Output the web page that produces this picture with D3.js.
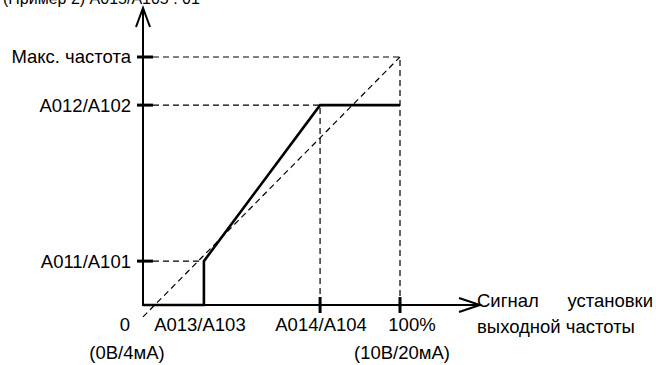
<!DOCTYPE html>
<html lang="ru">
<head>
<meta charset="UTF-8">
<title>Пример 2</title>
<style>
  body { margin: 0; background: #fff; }
  svg text { font-family: "Liberation Sans", Arial, sans-serif; font-size: 18.5px; fill: #000; }
  .axis { stroke: #000; stroke-width: 2; fill: none; }
  .tick { stroke: #000; stroke-width: 3; }
  .guide { stroke: #000; stroke-width: 1.2; stroke-dasharray: 6 4; fill: none; }
  .curve { stroke: #000; stroke-width: 2.6; fill: none; stroke-linejoin: miter; }
</style>
<script src="https://d3js.org/d3.v7.min.js"></script>
</head>
<body>
<script>
// values in % of signal (x) and % of max frequency (y)
const xPoints = { zero: 0, a013: 23.7, a014: 68.9, full: 100 };
const yPoints = { zero: 0, a011: 17.7, a012: 80.6, max: 100 };

const yLabels = [
  { key: "max", text: "Макс. частота" },
  { key: "a012", text: "A012/A102" },
  { key: "a011", text: "A011/A101" }
];
const xLabels = [
  { key: "a013", text: "A013/A103" },
  { key: "a014", text: "A014/A104" },
  { key: "full", text: "100%" }
];
const subLabels = [
  { key: "zero", text: "(0В/4мА)" },
  { key: "full", text: "(10В/20мА)" }
];
// output frequency curve (x %, y %)
const outputCurve = [
  [0, 0], [23.7, 0], [23.7, 17.7], [68.9, 80.6], [100, 80.6]
];
// reference diagonal
const diagonal = [[0, -4.8], [100, 100]];

const width = 656, height = 365;
const x = d3.scaleLinear().domain([0, 100]).range([143, 400]);
const y = d3.scaleLinear().domain([0, 100]).range([305, 57]);

const svg = d3.select("body").append("svg")
  .attr("width", width).attr("height", height);

// title (cut off at top, as in the source page)
svg.append("text").attr("x", 3).attr("y", 4)
  .style("font-size", "16px")
  .text("(Пример 2) A015/A105 : 01");

const line = d3.line().x(d => x(d[0])).y(d => y(d[1]));

// dashed guides
svg.append("path").attr("class", "guide").attr("d", line(diagonal));
svg.append("path").attr("class", "guide")
  .attr("d", line([[0, yPoints.max], [xPoints.full, yPoints.max], [xPoints.full, 0]]));
svg.append("path").attr("class", "guide")
  .attr("d", line([[0, yPoints.a012], [xPoints.a014, yPoints.a012], [xPoints.a014, 0]]));
svg.append("path").attr("class", "guide")
  .attr("d", line([[0, yPoints.a011], [xPoints.a013, yPoints.a011]]));

// axes
const x0 = x(0), y0 = y(0);
svg.append("line").attr("class", "axis")
  .attr("x1", x0).attr("y1", y0 + 1).attr("x2", x0).attr("y2", 8);
svg.append("path").attr("class", "axis")
  .attr("d", `M${x0 - 7},27 L${x0},8 L${x0 + 7},27`);
svg.append("line").attr("class", "axis")
  .attr("x1", x0 - 1).attr("y1", y0).attr("x2", 480).attr("y2", y0);
svg.append("path").attr("class", "axis")
  .attr("d", `M459,${y0 - 7} L480,${y0} L459,${y0 + 7}`);

// ticks
svg.selectAll(".ytick").data(yLabels).enter().append("line")
  .attr("class", "tick")
  .attr("x1", x0 - 6).attr("x2", x0 + 10)
  .attr("y1", d => y(yPoints[d.key])).attr("y2", d => y(yPoints[d.key]));
svg.selectAll(".xtick").data(xLabels.filter(d => d.key !== "a013")).enter().append("line")
  .attr("class", "tick")
  .attr("y1", y0 - 8).attr("y2", y0 + 8)
  .attr("x1", d => x(xPoints[d.key])).attr("x2", d => x(xPoints[d.key]));

// output curve
svg.append("path").attr("class", "curve").attr("d", line(outputCurve));

// y labels
svg.selectAll(".ylab").data(yLabels).enter().append("text")
  .attr("x", x0 - 12).attr("y", d => y(yPoints[d.key]))
  .attr("dy", "0.35em").attr("text-anchor", "end")
  .text(d => d.text);

// x labels
const xShift = { a013: -4, a014: 1, full: 12 };
svg.append("text").attr("x", x0 - 13).attr("y", 331).attr("text-anchor", "end").text("0");
svg.selectAll(".xlab").data(xLabels).enter().append("text")
  .attr("x", d => x(xPoints[d.key]) + xShift[d.key]).attr("y", 331)
  .attr("text-anchor", "middle")
  .text(d => d.text);
const subShift = { zero: -16, full: 2 };
svg.selectAll(".sublab").data(subLabels).enter().append("text")
  .attr("x", d => x(xPoints[d.key]) + subShift[d.key]).attr("y", 359)
  .attr("text-anchor", "middle")
  .text(d => d.text);

// x axis title (justified first line)
svg.append("text").attr("x", 477).attr("y", 307).text("Сигнал");
svg.append("text").attr("x", 653).attr("y", 307).attr("text-anchor", "end").text("установки");
svg.append("text").attr("x", 477).attr("y", 333).text("выходной частоты");
</script>
</body>
</html>
